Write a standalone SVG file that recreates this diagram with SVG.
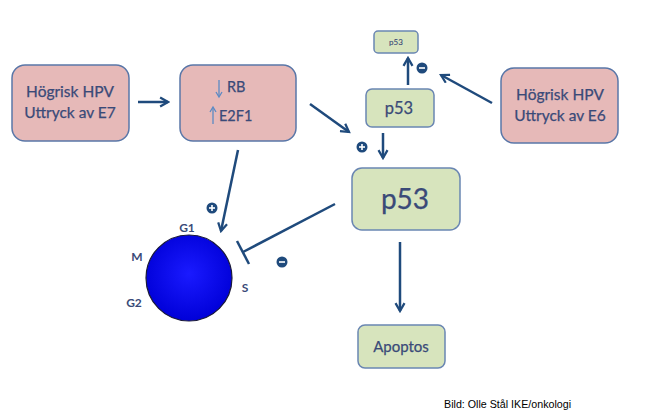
<svg xmlns="http://www.w3.org/2000/svg" width="663" height="418" viewBox="0 0 663 418">
<defs>
<style>
.pink{fill:#e6b9b8;stroke:#5a77a8;stroke-width:1.5}
.green{fill:#d7e4bd;stroke:#6a86b2;stroke-width:1.5}
.t{font-family:Lato,"Open Sans","Liberation Sans",sans-serif;fill:#3a4a78;text-anchor:middle;stroke:#3a4a78;stroke-width:0.25}
.c{stroke:#1f4a7c;stroke-width:2.5;fill:none}
.sign{fill:#1f4a7c}
.sg{stroke:#fff;stroke-width:1.6}
.lab{font-family:Lato,"Liberation Sans",sans-serif;fill:#3a4a78;font-size:12px;font-weight:bold;text-anchor:middle}
</style>
<marker id="ah" viewBox="0 0 10 10" refX="8" refY="5" markerWidth="4.5" markerHeight="4.5" orient="auto" markerUnits="strokeWidth">
<path d="M1,1 L8,5 L1,9" fill="none" stroke="#1f4a7c" stroke-width="2"/>
</marker>
<radialGradient id="bg" cx="0.5" cy="0.45" r="0.55">
<stop offset="0" stop-color="#1a1aff"/>
<stop offset="1" stop-color="#0000d8"/>
</radialGradient>
</defs>
<rect width="663" height="418" fill="#fff"/>
<g id="connectors">
<line class="c" x1="138" y1="102" x2="168" y2="102" marker-end="url(#ah)"/>
<line class="c" x1="310" y1="104" x2="349" y2="132" marker-end="url(#ah)"/>
<line class="c" x1="383" y1="133" x2="383" y2="158" marker-end="url(#ah)"/>
<line class="c" x1="408" y1="85" x2="408" y2="58" marker-end="url(#ah)"/>
<line class="c" x1="492" y1="103" x2="441" y2="75" marker-end="url(#ah)"/>
<line class="c" x1="238" y1="150" x2="221" y2="231" marker-end="url(#ah)"/>
<line class="c" x1="400" y1="242" x2="400" y2="311" marker-end="url(#ah)"/>
<line class="c" x1="335" y1="204" x2="243" y2="252"/>
<line class="c" x1="237" y1="241" x2="249" y2="264"/>
</g>
<g id="signs">
<circle class="sign" cx="362" cy="147" r="5.5"/><line class="sg" x1="359" y1="147" x2="365" y2="147"/><line class="sg" x1="362" y1="144" x2="362" y2="150"/>
<circle class="sign" cx="422" cy="68" r="5.5"/><line class="sg" x1="419" y1="68" x2="425" y2="68"/>
<circle class="sign" cx="212" cy="208" r="5.5"/><line class="sg" x1="209" y1="208" x2="215" y2="208"/><line class="sg" x1="212" y1="205" x2="212" y2="211"/>
<circle class="sign" cx="282" cy="262" r="5.5"/><line class="sg" x1="279" y1="262" x2="285" y2="262"/>
</g>
<g id="e7">
<rect class="pink" x="12" y="65" width="117" height="76" rx="13"/>
<text class="t" x="70" y="97" font-size="15.5">Högrisk HPV</text>
<text class="t" x="70" y="118" font-size="15.5">Uttryck av E7</text>
</g>
<g id="rb">
<rect class="pink" x="180" y="65" width="116" height="76" rx="13"/>
<line x1="219" y1="80" x2="219" y2="96" stroke="#5b8ac4" stroke-width="1.3"/>
<path d="M216,92 L219,97 L222,92" fill="none" stroke="#5b8ac4" stroke-width="1.3"/>
<text class="t" x="227" y="92" font-size="14.5" style="text-anchor:start">RB</text>
<line x1="213" y1="108" x2="213" y2="124" stroke="#5b8ac4" stroke-width="1.3"/>
<path d="M210,112 L213,107 L216,112" fill="none" stroke="#5b8ac4" stroke-width="1.3"/>
<text class="t" x="219" y="121" font-size="14.5" style="text-anchor:start">E2F1</text>
</g>
<g id="p53small">
<rect class="green" x="374" y="31" width="44" height="22" rx="4"/>
<text class="t" x="396" y="45" font-size="8" style="stroke-width:0.1">p53</text>
</g>
<g id="p53mid">
<rect class="green" x="366" y="89" width="68" height="38" rx="6"/>
<text class="t" x="399" y="114" font-size="16.5">p53</text>
</g>
<g id="e6">
<rect class="pink" x="501" y="68" width="117" height="75" rx="13"/>
<text class="t" x="560" y="100" font-size="15.5">Högrisk HPV</text>
<text class="t" x="560" y="121" font-size="15.5">Uttryck av E6</text>
</g>
<g id="p53big">
<rect class="green" x="352" y="168" width="108" height="62" rx="10"/>
<text class="t" x="405" y="209" font-size="28">p53</text>
</g>
<g id="apoptos">
<rect class="green" x="358" y="325" width="87" height="43" rx="7"/>
<text class="t" x="401" y="352" font-size="15">Apoptos</text>
</g>
<g id="cellcycle">
<circle cx="189" cy="278" r="43" fill="url(#bg)" stroke="#1a1a3a" stroke-width="1.2"/>
<text class="lab" x="187" y="232">G1</text>
<text class="lab" x="137" y="261">M</text>
<text class="lab" x="134" y="307">G2</text>
<text class="lab" x="245" y="292">S</text>
</g>
<text x="444" y="408" font-family="Liberation Sans,Arial,sans-serif" font-size="10.7" fill="#000">Bild: Olle Stål IKE/onkologi</text>
</svg>
